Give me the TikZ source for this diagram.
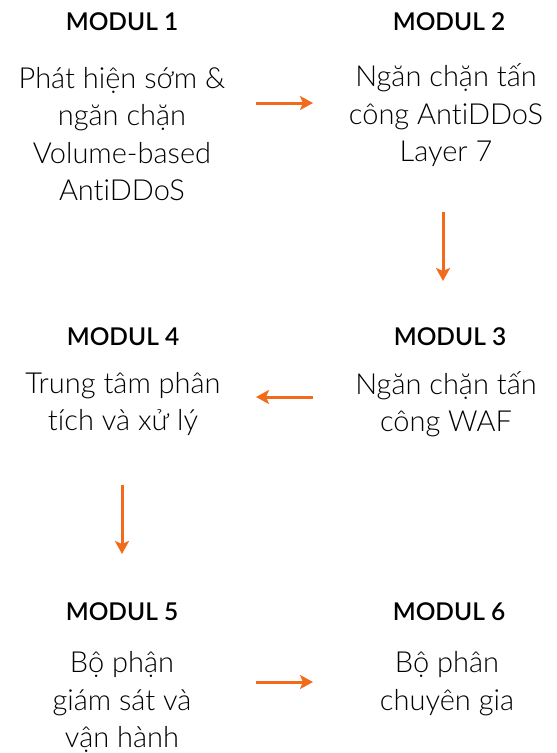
\documentclass[tikz,border=0pt]{standalone}
\usepackage{fontspec}
\IfFontExistsTF{Lato Light}
  {\setmainfont{Lato Light}[Ligatures={TeX,NoCommon}]}
  {\setmainfont{Lato}[Ligatures={TeX,NoCommon}]}
\IfFontExistsTF{Lato Semibold}
  {\newfontfamily\headfont{Lato Semibold}}
  {\newfontfamily\headfont{Lato Bold}}
\usetikzlibrary{arrows.meta}
\definecolor{flow}{HTML}{F26B1D}
\tikzset{
  head/.style={font=\headfont\fontsize{24.5}{28}\selectfont, inner sep=0pt},
  body/.style={font=\fontsize{29}{37.5}\selectfont, align=center, inner sep=0pt},
  flowarrow/.style={draw=flow, line width=3pt, -{Stealth[length=13pt,width=14pt,inset=3pt]}}
}
\begin{document}
\begin{tikzpicture}[x=1pt,y=-1pt]
\useasboundingbox (0,0) rectangle (557,753);
% module headers and descriptions
\node[head] (h1) at (122,22) {MODUL 1};
\node[body] (b1) at (122,134) {Phát hiện sớm \&\\ngăn chặn\\Volume-based\\AntiDDoS};
\node[head] (h2) at (449,22) {MODUL 2};
\node[body] (b2) at (446,115.5) {Ngăn chặn tấn\\công AntiDDoS\\Layer 7};
\node[head] (h4) at (123,337) {MODUL 4};
\node[body] (b4) at (123,404) {Trung tâm phân\\tích và xử lý};
\node[head] (h3) at (450,337) {MODUL 3};
\node[body] (b3) at (446,404) {Ngăn chặn tấn\\công WAF};
\node[head] (h5) at (122,612) {MODUL 5};
\node[body] (b5) at (122,702) {Bộ phận\\giám sát và\\vận hành};
\node[head] (h6) at (449,612) {MODUL 6};
\node[body] (b6) at (447,683.5) {Bộ phân\\chuyên gia};
% arrow end points
\coordinate (p12s) at (256,103); \coordinate (p12e) at (313,103);
\coordinate (p23s) at (443,212); \coordinate (p23e) at (443,281);
\coordinate (p34s) at (313,397); \coordinate (p34e) at (256,397);
\coordinate (p45s) at (122,485); \coordinate (p45e) at (122,554);
\coordinate (p56s) at (256,682); \coordinate (p56e) at (313,682);
\draw[flowarrow] (p12s) -- (p12e);
\draw[flowarrow] (p23s) -- (p23e);
\draw[flowarrow] (p34s) -- (p34e);
\draw[flowarrow] (p45s) -- (p45e);
\draw[flowarrow] (p56s) -- (p56e);
\end{tikzpicture}
\end{document}
